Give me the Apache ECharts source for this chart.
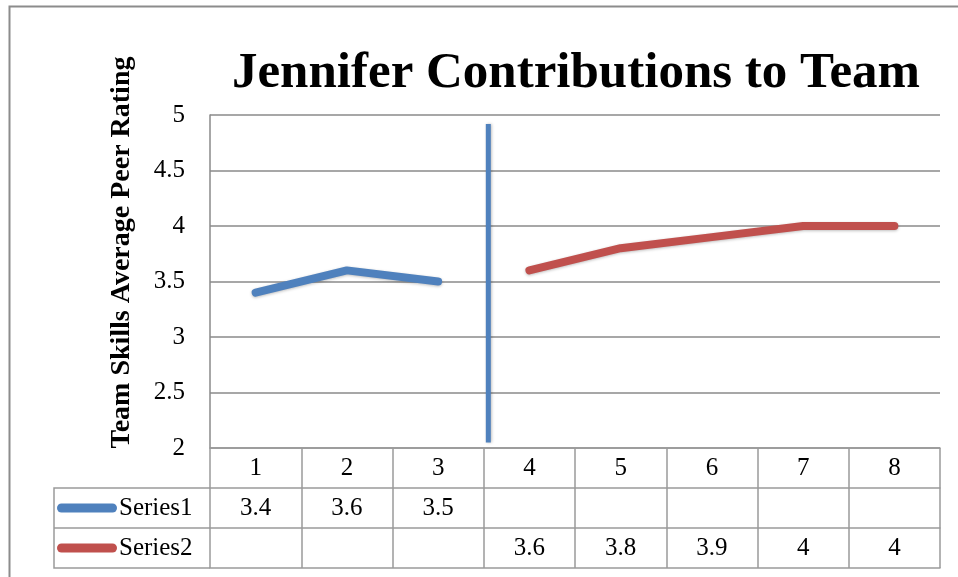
<!DOCTYPE html>
<html><head><meta charset="utf-8">
<script src="https://cdn.jsdelivr.net/npm/echarts@6/dist/echarts.min.js"></script>
<style>html,body{margin:0;padding:0;background:#fff}#c{width:958px;height:577px}</style>
</head><body><div id="c"></div>
<script>
var categories = ['1','2','3','4','5','6','7','8'];
var series1 = [3.4, 3.6, 3.5, null, null, null, null, null];
var series2 = [null, null, null, 3.6, 3.8, 3.9, 4, 4];
var dividerX = [3.55, 3.55];
var dividerY = [2.05, 4.92];
var yTicks = {min: 2, max: 5, interval: 0.5};
var titleText = 'Jennifer Contributions to Team';
var yName = 'Team Skills Average Peer Rating';

var serif = 'Liberation Serif';
var gridCol = '#8a8a8a';
var tableCol = '#9a9a9a';
var blue = '#4F81BD', red = '#C0504D';

function fmt(v){ return v == null ? ' ' : String(v); }

var chart = echarts.init(document.getElementById('c'), null, {renderer:'canvas'});
var option = {
  backgroundColor: '#fff',
  animation: false,
  title: {
    text: titleText, left: 571, top: 43, textAlign: 'center',
    textStyle: {fontFamily: serif, fontWeight: 'bold', fontSize: 51, color: '#000'}
  },
  grid: {left: 210, right: 18, top: 115, bottom: 129, containLabel: false},
  legend: {
    orient: 'vertical', left: 57, top: 488, itemGap: 0, padding: 0,
    itemWidth: 60, itemHeight: 9,
    icon: 'path://M4.5,0 L55.5,0 A4.5,4.5 0 0 1 55.5,9 L4.5,9 A4.5,4.5 0 0 1 4.5,0 Z',
    data: ['Series1', 'Series2'],
    textStyle: {fontFamily: serif, fontSize: 25, color: '#000', lineHeight: 40, padding: [0, 0, 0, -3]},
    selectedMode: false
  },
  xAxis: [
    {
      type: 'category', data: categories, boundaryGap: true, position: 'bottom',
      axisLine: {show: true, lineStyle: {color: tableCol, width: 1.5}},
      axisTick: {show: true, length: 120, inside: false, lineStyle: {color: tableCol, width: 1.5}},
      axisLabel: {
        interval: 0, margin: 0, fontFamily: serif, fontSize: 25, color: '#000', lineHeight: 40,
        formatter: function(v, i){ return v + '\n' + fmt(series1[i]) + '\n' + fmt(series2[i]); }
      },
      splitLine: {show: false}
    },
    {type: 'category', data: categories, offset: 40, position: 'bottom',
     axisLine: {show: true, lineStyle: {color: tableCol, width: 1.5}}, axisTick: {show: false}, axisLabel: {show: false}},
    {type: 'category', data: categories, offset: 80, position: 'bottom',
     axisLine: {show: true, lineStyle: {color: tableCol, width: 1.5}}, axisTick: {show: false}, axisLabel: {show: false}},
    {type: 'category', data: categories, offset: 120, position: 'bottom',
     axisLine: {show: true, lineStyle: {color: tableCol, width: 1.5}}, axisTick: {show: false}, axisLabel: {show: false}},
    {type: 'value', min: 0.5, max: 8.5, show: false}
  ],
  yAxis: {
    type: 'value', min: yTicks.min, max: yTicks.max, interval: yTicks.interval,
    name: yName, nameLocation: 'middle', nameRotate: 90, nameGap: 74,
    nameTextStyle: {fontFamily: serif, fontWeight: 'bold', fontSize: 28, color: '#000', padding: [0, 0, 0, 58]},
    axisLine: {show: true, lineStyle: {color: gridCol, width: 1.5}},
    axisTick: {show: false},
    axisLabel: {margin: 25, fontFamily: serif, fontSize: 25, color: '#000'},
    splitLine: {show: true, lineStyle: {color: gridCol, width: 1.5}}
  },
  series: [
    {name: 'Series1', type: 'line', data: series1, xAxisIndex: 0, showSymbol: false, symbol: 'none',
     connectNulls: false, itemStyle: {color: blue},
     lineStyle: {color: blue, width: 8, cap: 'round', join: 'round', shadowColor: 'rgba(0,0,0,0.25)', shadowBlur: 3, shadowOffsetY: 1}},
    {name: 'Series2', type: 'line', data: series2, xAxisIndex: 0, showSymbol: false, symbol: 'none',
     connectNulls: false, itemStyle: {color: red},
     lineStyle: {color: red, width: 8, cap: 'round', join: 'round', shadowColor: 'rgba(0,0,0,0.25)', shadowBlur: 3, shadowOffsetY: 1}},
    {name: 'divider', type: 'line', xAxisIndex: 4, showSymbol: false, symbol: 'none',
     data: dividerX.map(function(x, i){ return [x, dividerY[i]]; }),
     lineStyle: {color: blue, width: 5, shadowColor: 'rgba(0,0,0,0.25)', shadowBlur: 3, shadowOffsetX: 1}}
  ],
  graphic: [
    {type: 'rect', shape: {x: 9.5, y: 6.5, width: 1200, height: 1200}, style: {fill: 'none', stroke: '#8c8c8c', lineWidth: 2}, silent: true},
    {type: 'polyline', shape: {points: [[210, 488], [54, 488], [54, 568], [210, 568]]}, style: {fill: 'none', stroke: tableCol, lineWidth: 1.5}, silent: true},
    {type: 'line', shape: {x1: 54, y1: 528, x2: 210, y2: 528}, style: {stroke: tableCol, lineWidth: 1.5}, silent: true}
  ]
};
chart.setOption(option);
</script></body></html>
